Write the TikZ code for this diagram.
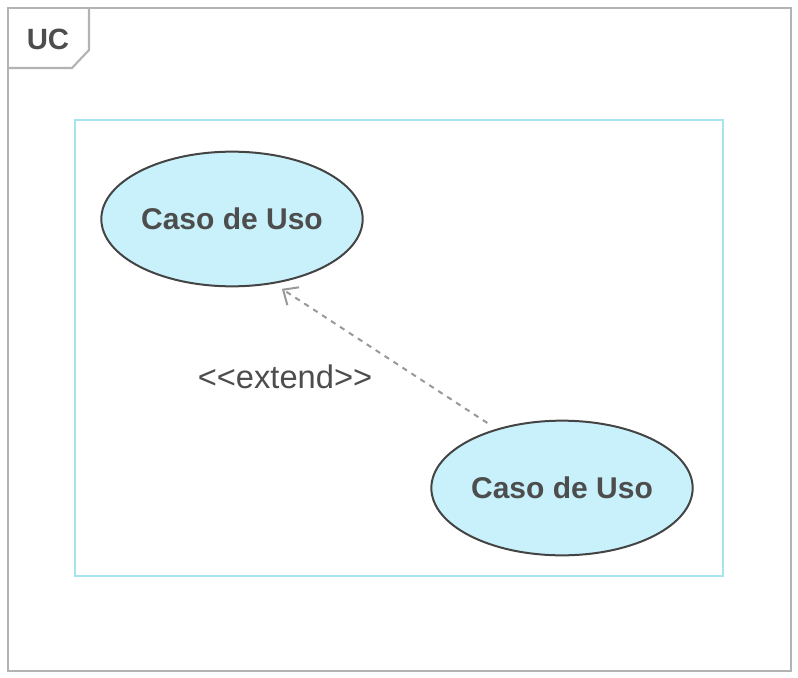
\documentclass[tikz,border=0pt]{standalone}
\usepackage{fontspec}
\setmainfont{Liberation Sans}[Ligatures=TeXOff]
\usetikzlibrary{arrows.meta,shapes.geometric}
\definecolor{framegray}{HTML}{B3B3B3}
\definecolor{boundcyan}{HTML}{A6E3EC}
\definecolor{ucfill}{HTML}{C9F1FB}
\definecolor{ucline}{HTML}{444444}
\definecolor{textgray}{HTML}{4D4D4D}
\definecolor{extgray}{HTML}{999999}

\begin{document}
\begin{tikzpicture}[x=0.75pt,y=-0.75pt,
usecase/.style={draw=ucline,fill=ucfill,ellipse,line width=1.5pt,minimum width=196pt,minimum height=101pt,inner sep=0pt,font=\bfseries\fontsize{22.5}{26}\selectfont,text=textgray},
extarr/.style={draw=extgray,line width=1.5pt,dash pattern=on 4pt off 4pt,-{Straight Barb[length=9pt,width=16pt,line width=1.5pt]}}]
\useasboundingbox (0,0) rectangle (798,677);
% frame and tab
\draw[framegray,line width=1.6pt] (8,8) rectangle (791,671);
\draw[framegray,line width=1.6pt] (89,8)--(89,50)--(72,68)--(8,68);
\node[font=\bfseries\fontsize{22}{26}\selectfont,text=textgray] (uc) at (48,39) {UC};
% system boundary
\draw[boundcyan,line width=1.1pt] (75,120) rectangle (723,576);
\node[usecase] (base) at (232,219) {Caso de Uso};
\node[usecase] (ext) at (562,488) {Caso de Uso};
\draw[extarr,shorten <=8pt,shorten >=7pt] (ext.138.7)--(base.303.3);
\node[font=\fontsize{24.5}{28}\selectfont,text=textgray] (extlbl) at (285,377) {<{}<extend>{}>};
\end{tikzpicture}
\end{document}
